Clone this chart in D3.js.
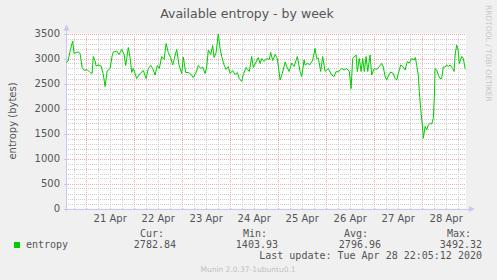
<!DOCTYPE html>
<html>
<head>
<meta charset="utf-8">
<script src="https://cdn.jsdelivr.net/npm/d3@7"></script>
<style>
  body { margin: 0; background: #f0f0f0; }
</style>
</head>
<body>
<div id="container"></div>
<script>
// hours after 2020-04-20 00:00 UTC, and entropy readings (bytes)
let hours = [14.2, 15.2, 16.2, 17.5, 18.2, 19.2, 20.2, 21.2, 22.2, 23.2, 24.7, 26.2, 27.2, 27.8, 28.7, 29.2, 30.2, 31.7, 32.7, 33.7,
  34.7, 36.2, 37.2, 37.8, 39.5, 40.7, 42, 43.2, 44, 45.3, 46.2, 47, 47.8, 49.5, 51.2, 52.8, 54.2, 55.3, 56.5, 57.5,
  58.7, 59.8, 60.8, 62, 63.2, 64.2, 65.3, 66.5, 67.5, 68.3, 69.5, 70.7, 72, 72.8, 74, 75.3, 76.5, 77.8, 79.2, 80.3,
  81.5, 82.5, 83.7, 84.5, 85.3, 86.5, 87.5, 88.2, 89.2, 90.3, 91.2, 92, 93.2, 94.2, 95.3, 96.2, 97.5, 98.7, 99.8, 100.8,
  102, 102.8, 104.2, 105.8, 107, 107.8, 109.2, 110.3, 111.2, 112, 113.2, 114.5, 115.8, 116.5, 117.5, 118.7, 119.8, 121.2, 122.3, 123.7,
  124.5, 125.7, 127, 128.2, 129.8, 131.2, 132, 133.2, 133.7, 134.8, 136.2, 137.5, 138.7, 139.5, 140.3, 141.5, 142.5, 143.7, 145.3, 147,
  148.2, 149.2, 150.3, 152, 153.2, 154.5, 155.8, 156.7, 157.5, 158.2, 159.2, 159.8, 160.8, 161.7, 162.5, 163.3, 164.2, 165, 166.2, 167,
  168.2, 169.5, 170.8, 172, 172.8, 173.7, 174.5, 175.3, 176.5, 177.8, 178.7, 179.5, 180.3, 181.5, 182.5, 183.7, 184.8, 185.8, 187, 188.2,
  188.8, 189.5, 190.3, 190.8, 191.5, 192.3, 192.8, 193.7, 194.5, 195.3, 196.2, 197, 197.8, 198.3, 198.7, 199.5, 200.3, 201.2, 202, 202.8,
  203.7, 204.5, 205.3, 206.2, 207.5, 208.2, 208.7, 209.5, 210.2, 210.8, 212, 212.8, 213.7, 214.1]
let entropy = [2920, 2950, 3150, 3350, 3100, 3120, 3130, 3100, 2820, 2760, 2780, 2720, 2700, 3040, 2950, 2850, 2870, 2850, 2700, 2440,
  2750, 2800, 3050, 3130, 3150, 3080, 3180, 3080, 2860, 3220, 3020, 2720, 2800, 2600, 2700, 2760, 2600, 2800, 2860, 2800,
  2670, 2860, 2800, 3040, 2980, 3300, 3120, 3020, 2870, 3000, 3180, 2860, 2700, 3030, 2720, 2720, 2690, 2620, 2720, 2860,
  2800, 2830, 2700, 2830, 3170, 3080, 3260, 3020, 3120, 3492, 3200, 3040, 2870, 2780, 2840, 2700, 2760, 2680, 2720, 2600,
  2540, 2680, 2820, 2740, 3040, 2820, 2930, 3020, 2900, 3000, 2940, 3000, 2980, 3120, 2960, 3080, 3000, 2570, 2700, 2930,
  2840, 2740, 2910, 2840, 3040, 2740, 2640, 2970, 2870, 2900, 2880, 2970, 3200, 3000, 3010, 2740, 3040, 2740, 2800, 2670,
  2640, 2740, 2730, 2800, 2770, 2800, 2740, 2400, 3000, 3030, 3070, 2740, 3000, 2740, 3000, 2740, 3040, 2740, 3070, 2670,
  2800, 2780, 2840, 2900, 2830, 2640, 2570, 2650, 2730, 2700, 2600, 2570, 2700, 2870, 2840, 2770, 2940, 2910, 3000, 2970,
  3020, 2870, 2670, 2340, 2000, 1670, 1404, 1640, 1570, 1670, 1700, 1690, 1800, 2200, 2800, 2770, 2670, 2600, 2600, 2830,
  2830, 2870, 2840, 2870, 2800, 2740, 3070, 3270, 3170, 2900, 3040, 3000, 2800, 2783]
let y_ticks = [0, 500, 1000, 1500, 2000, 2500, 3000, 3500]
let legend_heads = ['Cur:', 'Min:', 'Avg:', 'Max:']
let legend_vals = ['2782.84', '1403.93', '2796.96', '3492.32']

let width = 497, height = 280,
  plot = { left: 66, top: 33.5, w: 400, h: 175 }

let sans = '"DejaVu Sans", sans-serif',
  mono = '"DejaVu Sans Mono", monospace'

let base = Date.UTC(2020, 3, 20)
let t0 = new Date(base + 14.15 * 3600e3),
  t1 = new Date(base + 214.15 * 3600e3)

let svg = d3.select('#container')
  .append('svg')
  .attr('width', width)
  .attr('height', height)

svg.append('rect').attr('width', width).attr('height', height).attr('fill', '#f0f0f0')

let scale_x = d3.scaleUtc()
  .domain([t0, t1])
  .range([plot.left, plot.left + plot.w])

let scale_y = d3.scaleLinear()
  .domain([0, 3500])
  .range([plot.top + plot.h, plot.top])

// plot background
svg.append('rect')
  .attr('x', plot.left).attr('y', plot.top)
  .attr('width', plot.w).attr('height', plot.h)
  .attr('fill', '#ffffff')

let grid = svg.append('g').attr('shape-rendering', 'crispEdges')
let py = d => Math.round(scale_y(d)) + 0.5,
  px = d => Math.round(scale_x(d)) + 0.5

// minor grid
grid.selectAll('.hmin')
  .data(d3.range(100, 3500, 100).filter(v => v % 500 !== 0))
  .enter().append('line')
  .attr('x1', plot.left).attr('x2', plot.left + plot.w)
  .attr('y1', py).attr('y2', py)
  .attr('stroke', '#cccccc').attr('stroke-dasharray', '1,1')

grid.selectAll('.vmin')
  .data(d3.utcHour.every(6).range(t0, t1).filter(d => d.getUTCHours() !== 0))
  .enter().append('line')
  .attr('x1', px).attr('x2', px)
  .attr('y1', plot.top).attr('y2', plot.top + plot.h)
  .attr('stroke', '#cccccc').attr('stroke-dasharray', '1,1')

// major grid
grid.selectAll('.hmaj')
  .data(y_ticks.slice(1))
  .enter().append('line')
  .attr('x1', plot.left).attr('x2', plot.left + plot.w)
  .attr('y1', py).attr('y2', py)
  .attr('stroke', '#f0a8a8').attr('stroke-dasharray', '1,1')

grid.selectAll('.vmaj')
  .data(d3.utcDay.range(t0, t1))
  .enter().append('line')
  .attr('x1', px).attr('x2', px)
  .attr('y1', plot.top).attr('y2', plot.top + plot.h)
  .attr('stroke', '#f0a8a8').attr('stroke-dasharray', '1,1')

// axes
let y_axis = d3.axisLeft(scale_y).tickValues(y_ticks).tickFormat(d3.format('d')).tickSize(0).tickPadding(6)
let gy = svg.append('g').attr('transform', 'translate(' + plot.left + ',0)').call(y_axis)
gy.select('.domain').remove()
gy.selectAll('text').attr('font-size', 10).attr('fill', '#555').attr('font-family', sans)

let noons = d3.utcDay.range(t0, t1).map(d => new Date(+d + 12 * 3600e3)).filter(d => d < t1)
let x_axis = d3.axisBottom(scale_x).tickValues(noons).tickFormat(d3.utcFormat('%d %b')).tickSize(0).tickPadding(6)
let gx = svg.append('g').attr('transform', 'translate(0,' + (plot.top + plot.h) + ')').call(x_axis)
gx.select('.domain').remove()
gx.selectAll('text').attr('font-size', 10).attr('fill', '#555').attr('font-family', sans)

let axis_col = '#c8c8f0'
let ax = svg.append('g').attr('shape-rendering', 'crispEdges')
ax.append('line')
  .attr('x1', plot.left + 0.5).attr('x2', plot.left + 0.5)
  .attr('y1', plot.top + plot.h + 2).attr('y2', plot.top - 6)
  .attr('stroke', axis_col)
ax.append('line')
  .attr('x1', plot.left - 2).attr('x2', plot.left + plot.w + 5)
  .attr('y1', plot.top + plot.h + 0.5).attr('y2', plot.top + plot.h + 0.5)
  .attr('stroke', axis_col)
svg.append('path')
  .attr('d', 'M' + (plot.left - 2.5) + ',' + (plot.top - 3) + 'L' + (plot.left + 0.5) + ',' + (plot.top - 9) + 'L' + (plot.left + 3.5) + ',' + (plot.top - 3) + 'Z')
  .attr('fill', axis_col)
svg.append('path')
  .attr('d', 'M' + (plot.left + plot.w + 3) + ',' + (plot.top + plot.h - 2.5) + 'L' + (plot.left + plot.w + 9) + ',' + (plot.top + plot.h + 0.5) + 'L' + (plot.left + plot.w + 3) + ',' + (plot.top + plot.h + 3.5) + 'Z')
  .attr('fill', axis_col)
// small ticks on the axes
ax.selectAll('.yt').data(y_ticks).enter().append('line')
  .attr('x1', plot.left - 2).attr('x2', plot.left + 2)
  .attr('y1', py).attr('y2', py)
  .attr('stroke', axis_col)

// series
let series = hours.map((h, i) => ({ t: new Date(base + h * 3600e3), v: entropy[i] }))
let line = d3.line()
  .x(d => scale_x(d.t))
  .y(d => scale_y(d.v))
svg.append('path')
  .datum(series)
  .attr('d', line)
  .attr('fill', 'none')
  .attr('stroke', '#00cc00')
  .attr('stroke-width', 1)
  .attr('stroke-linejoin', 'round')

// titles
svg.append('text')
  .attr('x', 247).attr('y', 18)
  .attr('text-anchor', 'middle')
  .attr('font-family', sans).attr('font-size', 12.5).attr('fill', '#555')
  .text('Available entropy - by week')

svg.append('text')
  .attr('transform', 'translate(16,' + (plot.top + plot.h / 2) + ') rotate(-90)')
  .attr('text-anchor', 'middle')
  .attr('font-family', sans).attr('font-size', 10).attr('fill', '#555')
  .text('entropy (bytes)')

svg.append('text')
  .attr('transform', 'translate(486,5) rotate(90)')
  .attr('font-family', sans).attr('font-size', 7.5).attr('fill', '#c8c8c8')
  .text('RRDTOOL / TOBI OETIKER')

// legend
svg.append('rect')
  .attr('x', 14).attr('y', 242).attr('width', 6).attr('height', 6)
  .attr('fill', '#00cc00')
svg.append('text')
  .attr('x', 26).attr('y', 248)
  .attr('font-family', mono).attr('font-size', 10).attr('fill', '#555')
  .text('entropy')

let head_x = [140, 243, 344, 447], val_x = [176, 278, 381, 482]
svg.selectAll('.lh').data(legend_heads).enter().append('text')
  .attr('x', (d, i) => head_x[i]).attr('y', 237)
  .attr('font-family', mono).attr('font-size', 10).attr('fill', '#555')
  .text(d => d)
svg.selectAll('.lv').data(legend_vals).enter().append('text')
  .attr('x', (d, i) => val_x[i]).attr('y', 248)
  .attr('text-anchor', 'end')
  .attr('font-family', mono).attr('font-size', 10).attr('fill', '#555')
  .text(d => d)

svg.append('text')
  .attr('x', 482).attr('y', 259)
  .attr('text-anchor', 'end')
  .attr('font-family', mono).attr('font-size', 10).attr('fill', '#555')
  .text('Last update: Tue Apr 28 22:05:12 2020')

svg.append('text')
  .attr('x', 248).attr('y', 272)
  .attr('text-anchor', 'middle')
  .attr('font-family', sans).attr('font-size', 7.5).attr('fill', '#c0c0c0')
  .text('Munin 2.0.37-1ubuntu0.1')
</script>
</body>
</html>
